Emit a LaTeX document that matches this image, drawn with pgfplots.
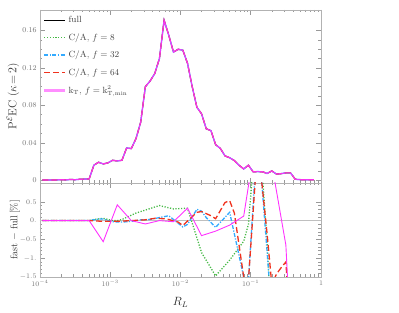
\documentclass[border=0pt]{standalone}
\usepackage{pgfplots}
\usepackage{pgfplotstable}
\pgfplotsset{compat=1.18}
\definecolor{cgreen}{RGB}{70,185,70}
\definecolor{cblue}{RGB}{51,170,255}
\definecolor{cred}{RGB}{240,50,30}
\definecolor{cmag}{RGB}{255,50,255}
\tikzset{
  sgreen/.style={draw=cgreen, color=cgreen, line width=1.3pt, dash pattern=on 1.2pt off 1.6pt},
  sblue/.style={draw=cblue, color=cblue, line width=1.3pt, dash pattern=on 4pt off 1.5pt on 1.2pt off 1.5pt},
  sred/.style={draw=cred, color=cred, line width=1.3pt, dash pattern=on 6pt off 3pt},
  smag/.style={draw=cmag, color=cmag, line width=0.9pt},
}
\pgfplotstableread{
x y
1.080e-4 0.0002
1.259e-4 0.0002
1.468e-4 0.0003
1.711e-4 0.0003
1.995e-4 0.0005
2.326e-4 0.0003
2.712e-4 0.0008
3.162e-4 0.0005
3.687e-4 0.0010
4.298e-4 0.0012
5.012e-4 0.0014
5.843e-4 0.0160
6.813e-4 0.0192
7.943e-4 0.0174
9.261e-4 0.0185
1.080e-3 0.0213
1.259e-3 0.0206
1.468e-3 0.0213
1.711e-3 0.0345
1.995e-3 0.0338
2.326e-3 0.0445
2.712e-3 0.0620
3.162e-3 0.1000
3.687e-3 0.1060
4.298e-3 0.1140
5.012e-3 0.1300
5.843e-3 0.1710
6.813e-3 0.1550
7.943e-3 0.1370
9.261e-3 0.1400
1.080e-2 0.1390
1.259e-2 0.1250
1.468e-2 0.1000
1.711e-2 0.0780
1.995e-2 0.0710
2.326e-2 0.0550
2.712e-2 0.0530
3.162e-2 0.0380
3.687e-2 0.0340
4.298e-2 0.0260
5.012e-2 0.0240
5.843e-2 0.0210
6.813e-2 0.0160
7.943e-2 0.0120
9.261e-2 0.0160
0.1080 0.0090
0.1259 0.0092
0.1468 0.0090
0.1711 0.0072
0.1995 0.0099
0.2326 0.0065
0.2712 0.0070
0.3162 0.0078
0.3687 0.0078
0.4298 0.0010
0.5012 0.0006
0.5843 0.0005
0.6813 0.0005
0.7943 0.0005
}\fulltable
\pgfplotstableread{
x y
1.080e-4 0
5.012e-4 0
5.843e-4 0.03
7.943e-4 0.06
1.080e-3 0.0
1.259e-3 0.0
1.468e-3 0.03
2.326e-3 0.20
5.012e-3 0.40
7.943e-3 0.31
1.259e-2 0.33
1.995e-2 -0.85
3.162e-2 -1.47
5.012e-2 -1.05
7.943e-2 -0.55
9.261e-2 -0.10
0.1259 3.0
0.1711 -0.6
0.1995 -3.0
}\greentable
\pgfplotstableread{
x y
1.080e-4 0
5.012e-4 0
6.813e-4 0.04
7.943e-4 0.04
1.080e-3 -0.03
1.468e-3 -0.04
1.995e-3 -0.02
2.712e-3 0.02
3.687e-3 0.03
5.012e-3 0.08
6.813e-3 0.13
1.080e-2 -0.17
1.259e-2 -0.10
1.468e-2 0.10
1.711e-2 0.30
1.995e-2 0.25
2.326e-2 0.08
3.162e-2 -0.18
5.012e-2 0.22
7.943e-2 -1.5
9.261e-2 -1.6
0.1259 2.4
0.1711 -0.84
0.1995 -2.5
}\bluetable
\pgfplotstableread{
x y
1.080e-4 0
5.012e-4 0
7.943e-4 -0.02
1.259e-3 -0.02
1.995e-3 0.0
3.162e-3 0.02
4.298e-3 0.06
5.843e-3 0.05
6.813e-3 0.03
9.261e-3 -0.04
1.080e-2 -0.13
1.711e-2 0.22
1.995e-2 0.24
2.712e-2 0.13
3.162e-2 0.05
4.298e-2 0.48
5.012e-2 0.53
5.843e-2 0.20
7.943e-2 -1.5
9.261e-2 -1.6
0.1259 2.05
0.1711 -0.36
0.1995 -1.7
0.2326 -1.42
0.2712 -1.25
0.3162 -1.10
0.3687 -3.0
}\redtable
\pgfplotstableread{
x y
1.080e-4 0
1.259e-4 0
1.995e-4 0
3.162e-4 0
5.012e-4 0
7.943e-4 -0.56
1.259e-3 0.42
1.995e-3 0.0
3.162e-3 -0.09
5.012e-3 0.0
7.943e-3 -0.03
1.259e-2 0.33
1.995e-2 -0.40
3.162e-2 -0.28
5.012e-2 -0.12
7.943e-2 0.12
0.1259 2.5
0.1995 1.5
0.3162 -0.65
0.5012 -8.0
}\magtable
\pgfplotsset{
  every axis/.append style={
    scale only axis, width=281bp, xmin=1e-4, xmax=1,
    axis line style={black!30, line width=0.8pt},
    tick style={black!40, line width=0.5pt},
    tick align=inside,
    major tick length=5bp, minor tick length=2.5bp,
    tick label style={font=\fontsize{7.5}{8}\selectfont, text=black!55},
    xtick={1e-4,1e-3,1e-2,1e-1,1},
    scaled y ticks=false,
  },
}
\begin{document}
\begin{tikzpicture}
\path[use as bounding box] (0,0) rectangle (399bp,313bp);
% upper panel
\begin{axis}[xmode=log, at={(40bp,130bp)}, anchor=south west, height=173bp,
  ymin=-0.003, ymax=0.182,
  xticklabel=\empty,
  ytick={0,0.04,0.08,0.12,0.16},
  yticklabels={0,0.04,0.08,0.12,0.16},
  minor y tick num=3,
  ylabel={P$^{\mathcal{E}}$EC ($\kappa\!=\!2$)},
  ylabel style={at={(axis description cs:-0.096,0.5)}, anchor=center, font=\fontsize{11.5}{12}\selectfont, text=black!80},
  legend cell align=left,
  legend image code/.code={\draw[#1] (0bp,0bp) -- (21bp,0bp);},
  legend style={at={(axis description cs:0.01,0.975)}, anchor=north west, draw=none, fill=none,
    font=\fontsize{9}{10}\selectfont, text=black!75, row sep=5.2bp, inner sep=0pt},
]
\addlegendimage{draw=black, line width=0.7pt}
\addlegendentry{full}
\addlegendimage{sgreen}
\addlegendentry{C/A, $f=8$}
\addlegendimage{sblue}
\addlegendentry{C/A, $f=32$}
\addlegendimage{sred}
\addlegendentry{C/A, $f=64$}
\addlegendimage{draw=cmag!55, line width=2.6pt}
\addlegendentry{k$_{\mathrm{T}}$, $f=\mathrm{k}^2_{\mathrm{T,min}}$}
\addplot[black, line width=0.7pt, forget plot] table[x=x,y=y] {\fulltable};
\addplot[cblue, line width=1.3pt, forget plot] table[x=x,y=y] {\fulltable};
\addplot[cred, line width=1.2pt, dash pattern=on 6pt off 3pt, forget plot] table[x=x,y=y] {\fulltable};
\addplot[cmag, line width=1.2pt, opacity=0.9, forget plot] table[x=x,y=y] {\fulltable};
\end{axis}
% lower panel
\begin{axis}[xmode=log, at={(40bp,36bp)}, anchor=south west, height=94bp,
  ymin=-1.5, ymax=1.0,
  xticklabels={$10^{-4}$,$10^{-3}$,$10^{-2}$,$10^{-1}$,$1$},
  ytick={-1.5,-1,-0.5,0,0.5},
  yticklabels={$-1.5$,$-1.$,$-0.5$,$0.$,$0.5$},
  minor y tick num=4,
  xlabel={$R_L$},
  xlabel style={at={(axis description cs:0.5,-0.27)}, anchor=center, font=\fontsize{12}{13}\selectfont, text=black!85},
  ylabel={fast $-$ full$\,[\%]$},
  ylabel style={at={(axis description cs:-0.089,0.5)}, anchor=center, font=\fontsize{10}{11}\selectfont, text=black!80},
]
\addplot[black!25, line width=0.9pt] coordinates {(1e-4,0) (1,0)};
\addplot[sgreen] table[x=x,y=y] {\greentable};
\addplot[sblue] table[x=x,y=y] {\bluetable};
\addplot[sred] table[x=x,y=y] {\redtable};
\addplot[smag] table[x=x,y=y] {\magtable};
\end{axis}
\end{tikzpicture}
\end{document}
